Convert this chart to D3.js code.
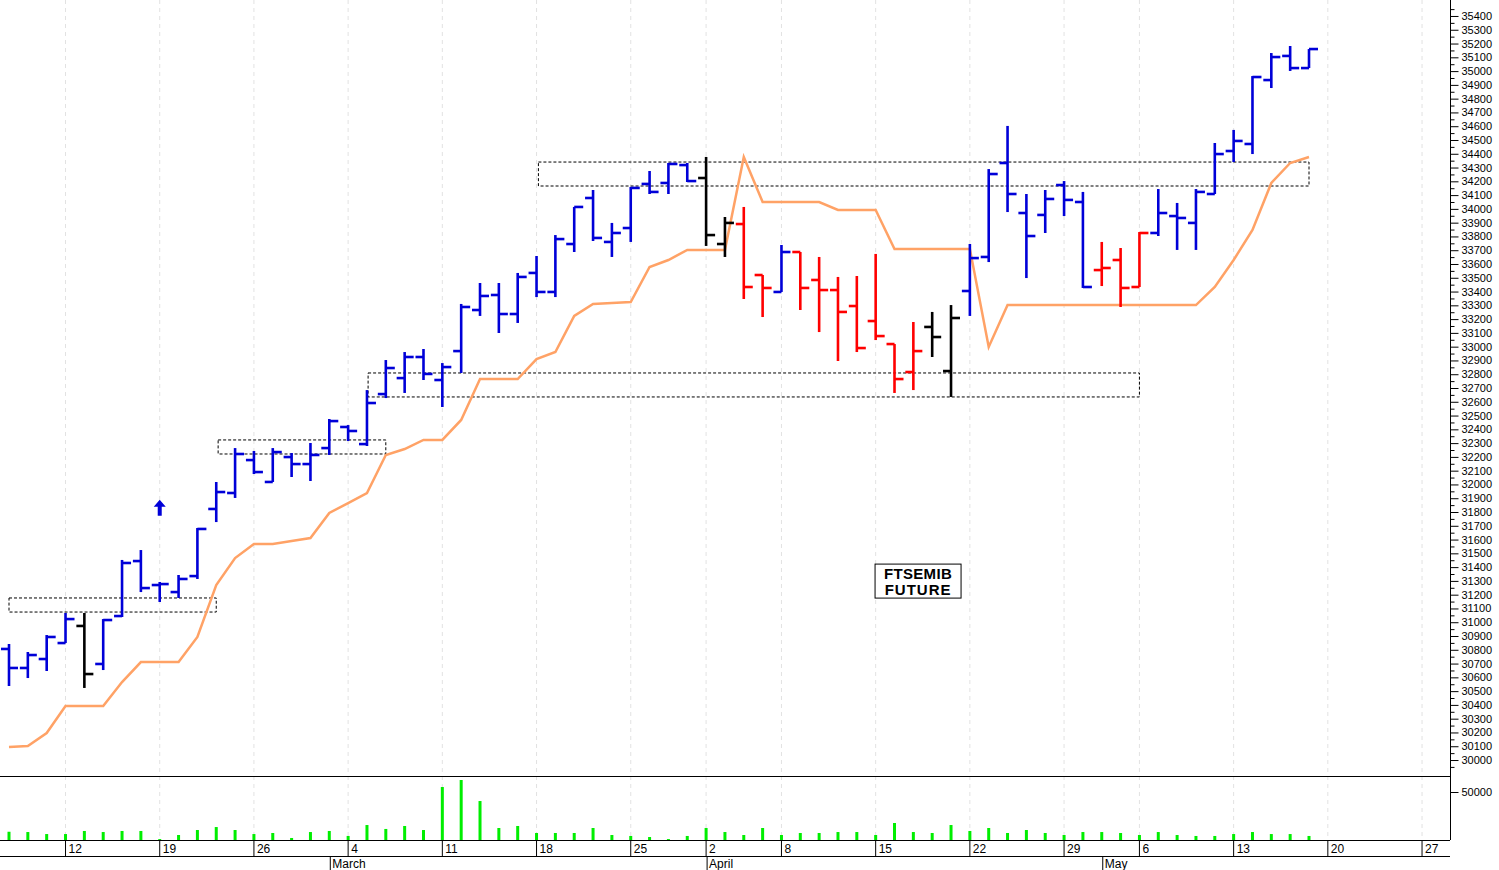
<!DOCTYPE html>
<html>
<head>
<meta charset="utf-8">
<script src="https://d3js.org/d3.v7.min.js"></script>
<style>
body{margin:0;background:#fff;font-family:Arial, "Liberation Sans", sans-serif;}
</style>
</head>
<body>
<div id="chart"></div>
<script>
// daily OHLC (index = trading day)
var opens  = [30806,30668,30733,30849,30973,30697,31045,31444,31270,31219,31335,31822,31938,32177,32018,32199,32148,32264,32417,32293,32656,32772,32925,32758,32968,33266,33375,33237,33535,33397,33745,34079,33760,33861,34181,34188,34318,34224,33745,33890,33520,33397,33687,33484,33411,33295,33186,33019,32816,33143,32823,33404,33651,34333,33970,33956,34173,34050,33556,33629,33433,33825,33948,33898,34108,34420,34471,34935,35110,35022]
var highs  = [30842,30784,30907,31067,31067,31023,31452,31524,31292,31343,31684,32018,32264,32243,32264,32228,32301,32475,32431,32685,32903,32961,32983,32881,33310,33462,33462,33535,33658,33810,34014,34137,33898,34159,34275,34333,34333,34377,33941,34014,33520,33738,33687,33651,33506,33513,33673,33019,33179,33252,33302,33745,34289,34602,34108,34137,34202,34123,33760,33716,33832,34144,34043,34144,34478,34573,34964,35131,35182,35160]
var lows   = [30537,30595,30646,30849,30523,30653,31038,31219,31147,31176,31314,31727,31902,32076,32018,32054,32025,32214,32315,32279,32627,32664,32758,32562,32809,33223,33099,33172,33360,33360,33687,33767,33651,33760,34108,34108,34195,33731,33651,33346,33215,33397,33266,33106,32896,32961,33048,32664,32685,32925,32635,33223,33614,33977,33498,33825,33948,33426,33440,33288,33433,33803,33702,33702,34108,34340,34398,34877,35001,35022]
var closes = [30668,30762,30893,31023,30624,31016,31430,31248,31277,31314,31677,31945,32221,32090,32235,32148,32214,32460,32388,32591,32845,32925,32802,32852,33288,33368,33237,33506,33397,33781,34014,33789,33825,34152,34123,34326,34202,33810,33898,33433,33426,33687,33426,33411,33252,32990,33077,32765,32968,33070,33208,33643,34253,34108,33803,34072,34065,33433,33571,33426,33825,33970,33934,34123,34398,34493,34957,35102,35022,35160]
// bar colour class: b = blue, r = red, k = black
var barColors = "bbbbkbbbbbbbbbbbbbbbbbbbbbbbbbbbbbbbbkkrrbrrrrrrrkkbbbbbbbrrrbbbbbbbbbbb".split("")
// trailing stop line
var stopLine = [30094,30102,30196,30392,30392,30392,30566,30711,30711,30711,30893,31270,31466,31568,31568,31590,31611,31793,31865,31938,32214,32257,32323,32323,32468,32765,32765,32765,32910,32961,33223,33310,33317,33324,33578,33629,33702,33702,33702,34377,34050,34050,34050,34050,33992,33992,33992,33709,33709,33709,33709,33709,32998,33302,33302,33302,33302,33302,33302,33302,33302,33302,33302,33302,33433,33629,33847,34188,34333,34377]
var volumes = [8600,8300,6200,6200,9400,8300,9400,9400,1000,5200,10400,13500,10400,6200,7300,2100,8300,9400,4200,15600,11500,14600,10400,55200,62500,40600,12500,14600,7300,7300,7300,12500,5200,4200,3100,1000,4200,12500,8300,5200,12500,5200,7300,7300,8300,8300,5200,17700,8300,7300,15600,9400,12500,7300,10400,7300,5200,8300,8300,7300,5200,8300,5200,4200,4200,6200,8300,6200,6200,4200]
// dashed zones: [startIdx, endIdx, low, high]
var zones = [[0,11,31074,31176],[11.1,20,32221,32323],[19.06,60,32635,32809],[28.1,69,34166,34340]]
var weekTickIdx = [3,8,13,18,23,28,33,37,41,46,51,56,60,65,70,75]
var weekTickLabels = ["12","19","26","4","11","18","25","2","8","15","22","29","6","13","20","27"]
var monthIdx = [17,37,58]
var monthLabels = ["March","April","May"]
var priceTicks = d3.range(30000,35401,100)
var colorMap = {b:"#0000d8", r:"#ff0000", k:"#000000"}

var W = 1499, H = 870, axisX = 1450
var svg = d3.select("#chart").append("svg").attr("width",W).attr("height",H)

var x = d3.scaleLinear().domain([0,69]).range([9,1309])
var y = d3.scaleLinear().domain([29884,35516]).range([776,0])
var yv = d3.scaleLinear().domain([0,50000]).range([840,792])

// grid
svg.selectAll(".grid").data(weekTickIdx).enter().append("line")
    .attr("x1",d=>x(d)).attr("x2",d=>x(d)).attr("y1",0).attr("y2",840)
    .attr("stroke","#e2e2e2").attr("stroke-dasharray","4,4")

// zones
svg.selectAll(".zone").data(zones).enter().append("rect")
    .attr("x",d=>x(d[0])).attr("width",d=>x(d[1])-x(d[0]))
    .attr("y",d=>y(d[3])).attr("height",d=>y(d[2])-y(d[3]))
    .attr("fill","none").attr("stroke","#000").attr("stroke-width",1).attr("stroke-dasharray","3,2")

// stop line
svg.append("path").datum(stopLine)
    .attr("d",d3.line().x((d,i)=>x(i)).y(d=>y(d)))
    .attr("fill","none").attr("stroke","#ffa266").attr("stroke-width",2.5)

// OHLC bars
var bars = svg.selectAll(".bar").data(opens).enter().append("g")
    .attr("stroke",(d,i)=>colorMap[barColors[i]]).attr("stroke-width",2.6)
bars.append("line").attr("x1",(d,i)=>x(i)).attr("x2",(d,i)=>x(i))
    .attr("y1",(d,i)=>y(highs[i])).attr("y2",(d,i)=>y(lows[i]))
bars.append("line").attr("x1",(d,i)=>x(i)-8).attr("x2",(d,i)=>x(i))
    .attr("y1",(d,i)=>y(opens[i])).attr("y2",(d,i)=>y(opens[i]))
bars.append("line").attr("x1",(d,i)=>x(i)).attr("x2",(d,i)=>x(i)+9)
    .attr("y1",(d,i)=>y(closes[i])).attr("y2",(d,i)=>y(closes[i]))

// arrow
var ax = x(8), ay = y(31830)
svg.append("path").attr("d","M"+ax+","+(ay-8)+" L"+(ax+6)+","+(ay-1)+" L"+(ax+2)+","+(ay-1)+" L"+(ax+2)+","+(ay+8)+" L"+(ax-2)+","+(ay+8)+" L"+(ax-2)+","+(ay-1)+" L"+(ax-6)+","+(ay-1)+"Z")
    .attr("fill","#0000d8")

// label box
var lx = x(48.25), ly = y(31422)
svg.append("rect").attr("x",lx-43).attr("y",ly).attr("width",86).attr("height",34)
    .attr("fill","#fff").attr("stroke","#000")
svg.append("text").attr("x",lx).attr("y",ly+15).attr("text-anchor","middle")
    .attr("font-size",15).attr("font-weight","bold").attr("font-family","Arial, Liberation Sans").attr("letter-spacing",0.3).text("FTSEMIB")
svg.append("text").attr("x",lx).attr("y",ly+31).attr("text-anchor","middle")
    .attr("font-size",15).attr("font-weight","bold").attr("font-family","Arial, Liberation Sans").attr("letter-spacing",1).text("FUTURE")

// volume
svg.selectAll(".vol").data(volumes).enter().append("rect")
    .attr("x",(d,i)=>x(i)-1.5).attr("width",3)
    .attr("y",d=>yv(d)).attr("height",d=>840-yv(d)).attr("fill","#00ee00")

// panel frames
svg.append("line").attr("x1",0).attr("x2",axisX).attr("y1",776.5).attr("y2",776.5).attr("stroke","#000")
svg.append("line").attr("x1",0).attr("x2",axisX).attr("y1",840.5).attr("y2",840.5).attr("stroke","#000")
svg.append("line").attr("x1",0).attr("x2",axisX).attr("y1",856.5).attr("y2",856.5).attr("stroke","#000")
svg.append("line").attr("x1",axisX+0.5).attr("x2",axisX+0.5).attr("y1",0).attr("y2",840).attr("stroke","#000")

// right price axis
var yAxis = d3.axisRight(y).tickValues(priceTicks).tickSize(8).tickFormat(d3.format("d"))
var ga = svg.append("g").attr("transform","translate("+(axisX+0.5)+",0)").call(yAxis)
ga.select(".domain").remove()
ga.selectAll("text").attr("font-size",11).attr("font-family","Arial, Liberation Sans").attr("x",11)
svg.append("g").attr("transform","translate("+(axisX+0.5)+",0)")
    .call(d3.axisRight(y).tickValues(d3.range(29950,35501,100)).tickSize(4).tickFormat(""))
    .select(".domain").remove()
var gv = svg.append("g").attr("transform","translate("+(axisX+0.5)+",0)")
    .call(d3.axisRight(yv).tickValues([50000]).tickSize(8).tickFormat(d3.format("d")))
gv.select(".domain").remove()
gv.selectAll("text").attr("font-size",11).attr("font-family","Arial, Liberation Sans").attr("x",11)

// bottom time axis
var gx = svg.append("g").selectAll("g").data(weekTickIdx).enter().append("g")
gx.append("line").attr("x1",(d)=>x(d)).attr("x2",d=>x(d)).attr("y1",840).attr("y2",856).attr("stroke","#000")
gx.append("text").attr("x",d=>x(d)+3).attr("y",853).attr("font-size",12)
    .text((d,i)=>weekTickLabels[i])
var gm = svg.append("g").selectAll("g").data(monthIdx).enter().append("g")
gm.append("line").attr("x1",d=>x(d)+1).attr("x2",d=>x(d)+1).attr("y1",856).attr("y2",870).attr("stroke","#000")
gm.append("text").attr("x",d=>x(d)+3).attr("y",868).attr("font-size",12)
    .text((d,i)=>monthLabels[i])
</script>
</body>
</html>
